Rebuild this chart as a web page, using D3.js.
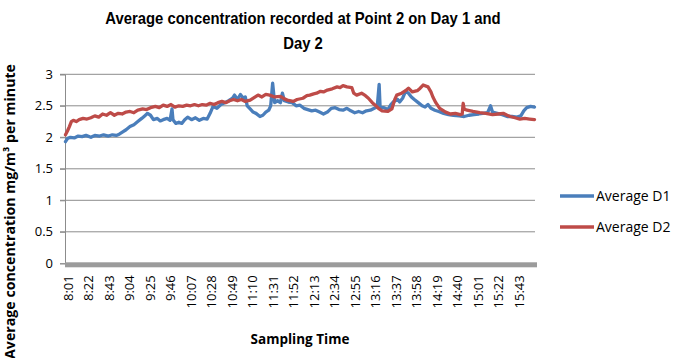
<!DOCTYPE html>
<html><head><meta charset="utf-8">
<script src="https://cdn.jsdelivr.net/npm/d3@7/dist/d3.min.js"></script>
<style>body{margin:0;background:#fff}svg{display:block}</style>
</head><body><svg id="chart" width="677" height="358"></svg>
<script>
const titleLines = ["Average concentration recorded at Point 2 on Day 1 and", "Day 2"];
const xTitle = "Sampling Time";
const yTitle = "Average concentration mg/m\u00b3 per minute";
const seriesNames = ["Average D1", "Average D2"];
const seriesColors = ["#4A7EBB", "#BE4B48"];
const xTickLabels = ["8:01","8:22","8:43","9:04","9:25","9:46","10:07","10:28","10:49","11:10","11:31","11:52","12:13","12:34","12:55","13:16","13:37","13:58","14:19","14:40","15:01","15:22","15:43"];
const yTicks = [0, 0.5, 1, 1.5, 2, 2.5, 3];

const d1Times = ["8:01","8:03","8:06","8:10","8:14","8:18","8:22","8:27","8:31","8:36","8:40","8:45","8:49","8:53","8:56","9:00","9:03","9:07","9:11","9:15","9:19","9:22","9:25","9:28","9:31","9:35","9:38","9:41","9:45","9:48","9:50","9:51","9:54","9:57","10:00","10:03","10:06","10:10","10:14","10:18","10:22","10:26","10:29","10:32","10:36","10:40","10:44","10:48","10:52","10:54","10:57","11:00","11:03","11:05","11:07","11:10","11:13","11:16","11:20","11:23","11:26","11:29","11:31","11:33","11:35","11:38","11:41","11:43","11:45","11:49","11:53","11:57","12:01","12:05","12:09","12:13","12:17","12:21","12:25","12:29","12:33","12:37","12:41","12:45","12:49","12:53","12:57","13:01","13:05","13:09","13:13","13:17","13:20","13:22","13:23","13:27","13:31","13:34","13:37","13:41","13:43","13:46","13:49","13:52","13:55","13:58","14:02","14:06","14:09","14:12","14:15","14:19","14:23","14:28","14:33","14:38","14:44","14:49","14:54","14:59","15:04","15:08","15:13","15:16","15:18","15:23","15:28","15:33","15:38","15:43","15:47","15:50","15:53","15:57","16:01"];
const d1Values = [1.93,1.98,2.00,1.99,2.02,2.01,2.03,2.00,2.03,2.02,2.04,2.02,2.04,2.03,2.05,2.09,2.12,2.17,2.20,2.25,2.30,2.34,2.38,2.35,2.28,2.30,2.26,2.28,2.30,2.27,2.45,2.28,2.22,2.24,2.22,2.28,2.32,2.28,2.31,2.27,2.30,2.29,2.38,2.49,2.46,2.52,2.55,2.58,2.62,2.67,2.60,2.68,2.62,2.64,2.50,2.45,2.40,2.38,2.33,2.35,2.40,2.43,2.50,2.86,2.55,2.58,2.55,2.70,2.58,2.56,2.55,2.50,2.51,2.46,2.44,2.42,2.43,2.40,2.37,2.40,2.46,2.47,2.44,2.43,2.46,2.42,2.39,2.41,2.39,2.42,2.43,2.46,2.48,2.84,2.47,2.47,2.44,2.52,2.57,2.60,2.56,2.62,2.73,2.70,2.64,2.60,2.55,2.50,2.48,2.52,2.46,2.43,2.41,2.38,2.36,2.35,2.34,2.33,2.35,2.36,2.37,2.38,2.39,2.50,2.40,2.38,2.36,2.33,2.33,2.32,2.34,2.42,2.47,2.49,2.48];

const d2Times = ["8:01","8:03","8:05","8:07","8:09","8:12","8:15","8:19","8:23","8:27","8:31","8:35","8:39","8:43","8:47","8:51","8:55","8:59","9:03","9:07","9:11","9:15","9:20","9:24","9:28","9:33","9:37","9:41","9:45","9:49","9:53","9:57","10:01","10:05","10:09","10:13","10:17","10:21","10:25","10:29","10:33","10:37","10:41","10:45","10:49","10:53","10:57","11:01","11:05","11:10","11:14","11:18","11:22","11:26","11:30","11:35","11:41","11:45","11:48","11:54","11:58","12:04","12:08","12:11","12:15","12:18","12:22","12:25","12:29","12:34","12:39","12:42","12:45","12:49","12:54","12:56","12:59","13:04","13:08","13:11","13:15","13:18","13:22","13:25","13:31","13:35","13:38","13:40","13:45","13:49","13:52","13:56","14:01","14:04","14:07","14:12","14:15","14:17","14:20","14:24","14:30","14:35","14:40","14:45","14:47","14:48","14:49","14:52","14:58","15:05","15:11","15:18","15:24","15:29","15:33","15:36","15:41","15:46","15:51","15:56","16:01"];
const d2Values = [2.04,2.10,2.17,2.25,2.27,2.25,2.28,2.30,2.29,2.31,2.34,2.32,2.37,2.35,2.39,2.35,2.38,2.37,2.40,2.41,2.39,2.43,2.45,2.44,2.47,2.49,2.47,2.51,2.49,2.52,2.48,2.50,2.49,2.51,2.50,2.52,2.50,2.52,2.51,2.54,2.52,2.55,2.57,2.55,2.58,2.60,2.58,2.60,2.57,2.59,2.63,2.67,2.64,2.68,2.67,2.64,2.65,2.61,2.59,2.57,2.60,2.62,2.66,2.67,2.69,2.70,2.73,2.72,2.75,2.77,2.80,2.79,2.82,2.80,2.79,2.70,2.67,2.70,2.66,2.62,2.55,2.51,2.45,2.42,2.41,2.45,2.60,2.67,2.70,2.74,2.78,2.72,2.74,2.78,2.83,2.80,2.72,2.64,2.55,2.46,2.40,2.37,2.38,2.36,2.37,2.54,2.45,2.43,2.41,2.39,2.38,2.36,2.37,2.38,2.35,2.33,2.31,2.29,2.30,2.29,2.28];

const toMin = s => { const [h, m] = s.split(":").map(Number); return h * 60 + m - (8 * 60 + 1); };

const svg = d3.select("#chart");
const pLeft = 65, pRight = 535, pTop = 74.3, pBottom = 263.3;
const x = d3.scaleLinear().domain([-0.5, 480.5]).range([pLeft, pRight]);
const y = d3.scaleLinear().domain([0, 3]).range([pBottom, pTop]);
const axisFont = "'Open Sans', sans-serif";

// title
svg.append("g").attr("transform", "translate(303,0) scale(0.9,1)")
  .selectAll("text").data(titleLines).join("text")
  .attr("x", 0).attr("y", (d, i) => 24 + i * 25)
  .attr("text-anchor", "middle")
  .attr("font-family", "'Liberation Sans', Arial, sans-serif")
  .attr("font-weight", "bold").attr("font-size", 16.5)
  .attr("fill", "#000")
  .text(d => d);

// gridlines
const grid = svg.append("g");
grid.selectAll("line").data(yTicks.filter(v => v > 0)).join("line")
  .attr("x1", pLeft - 5).attr("x2", pRight).attr("y1", d => y(d)).attr("y2", d => y(d))
  .attr("stroke", "#8c8c8c").attr("stroke-width", 1);

// y axis
const yAxis = d3.axisLeft(y).tickValues(yTicks).tickSize(5).tickPadding(7).tickFormat(d3.format("~g"));
const yg = svg.append("g").attr("transform", `translate(${pLeft},0)`).call(yAxis);
yg.select(".domain").attr("stroke", "#8c8c8c");
yg.selectAll(".tick line").attr("stroke", "#8c8c8c");
yg.selectAll(".tick text").attr("font-family", axisFont).attr("font-size", 13).attr("fill", "#000");

// x axis bar
svg.append("rect").attr("x", pLeft).attr("y", pBottom - 1).attr("width", pRight - pLeft + 2).attr("height", 5)
  .attr("fill", "#9b9b9b");

// x axis tick labels
const xAxis = d3.axisBottom(x).tickValues(xTickLabels.map(toMin)).tickSize(0)
  .tickFormat((d, i) => xTickLabels[i]);
const xg = svg.append("g").attr("transform", `translate(0,${pBottom + 4})`).call(xAxis);
xg.select(".domain").remove();
xg.selectAll(".tick text")
  .attr("font-family", axisFont).attr("font-size", 13).attr("fill", "#000")
  .attr("transform", "rotate(-90)")
  .attr("text-anchor", "end").attr("x", -8).attr("y", 2).attr("dy", "0.35em");

// lines
const series = [
  { name: seriesNames[0], color: seriesColors[0], pts: d1Times.map((t, i) => [toMin(t), d1Values[i]]) },
  { name: seriesNames[1], color: seriesColors[1], pts: d2Times.map((t, i) => [toMin(t), d2Values[i]]) }
];
const line = d3.line().x(d => x(d[0])).y(d => y(d[1]));
svg.append("g").selectAll("path").data(series).join("path")
  .attr("d", d => line(d.pts)).attr("fill", "none")
  .attr("stroke", d => d.color).attr("stroke-width", 3.3)
  .attr("stroke-linejoin", "round").attr("stroke-linecap", "round");

// axis titles
svg.append("text").attr("x", 300).attr("y", 344).attr("text-anchor", "middle")
  .attr("font-family", axisFont).attr("font-weight", "bold").attr("font-size", 13.5)
  .text(xTitle);
svg.append("text").attr("transform", "rotate(-90)")
  .attr("x", -64).attr("y", 15).attr("text-anchor", "end")
  .attr("font-family", axisFont).attr("font-weight", "bold").attr("font-size", 14.2)
  .text(yTitle);

// legend
const lg = svg.append("g").selectAll("g").data(series).join("g")
  .attr("transform", (d, i) => `translate(560,${196 + i * 31})`);
lg.append("line").attr("x1", 0).attr("x2", 34).attr("stroke", d => d.color).attr("stroke-width", 3.3);
lg.append("text").attr("x", 36).attr("y", 0).attr("dy", "0.35em")
  .attr("font-family", axisFont).attr("font-size", 14).attr("fill", "#000").text(d => d.name);
</script></body></html>
